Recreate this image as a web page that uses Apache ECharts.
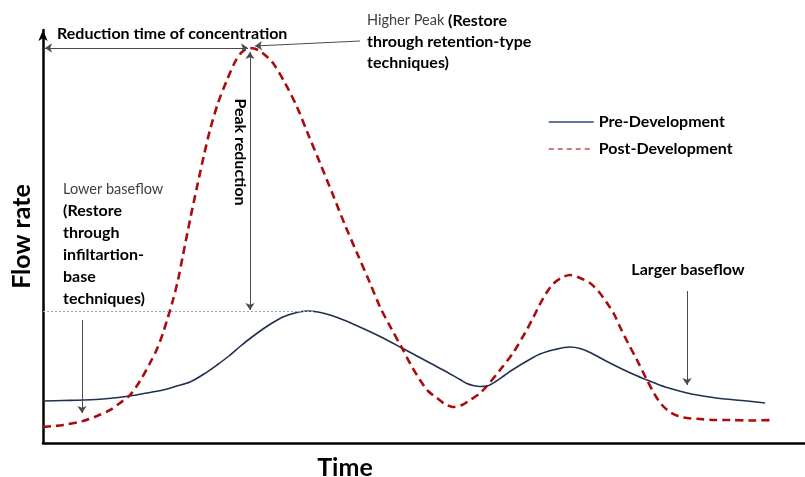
<!DOCTYPE html>
<html><head><meta charset="utf-8">
<script src="https://cdn.jsdelivr.net/npm/echarts@6/dist/echarts.min.js"></script>
<style>html,body{margin:0;padding:0;background:#fff}#c{width:805px;height:477px}</style>
</head><body><div id="c"></div>
<script>
// Time (x) and flow rate (y) in arbitrary units
const preX = [0,20,40,60,87,104,120,134,147,161,174,186,197,209,220,230,240,252,264,275,287,302,319,337,359,373,387,402,417,424,430,437,444,452,462,470,484,497,512,527,537,547,563,580,592,604,614,624,644,657,677,699,722];
const preY = [42,42.5,43,44,47,50,53,57,61,69,78,87,96.5,106,114,120.5,126,130,132,131,128,122.5,115,106.5,95,87.5,80,72,63.5,59.5,57.5,56.5,57,61,68,73.5,82,89,93.5,96,94.5,90.5,82,73.5,68,63,59,55.5,50,47.5,44.5,42.5,40];
const postX = [0,20,40,54,67,77,87,97,107,114,120,125,130,135,140,147,154,161,167,175,184,192,199,207,215,223,230,242,254,265,277,290,302,314,327,337,348,359,368,377,385,394,402,410,419,427,436,444,457,470,482,490,497,504,510,518,527,537,547,556,564,571,577,585,594,604,612,619,627,635,644,657,672,687,707,730];
const postY = [16,18,22,27,33,40,48,62,80,94,110,126,143,163,188,223,256,288,313,340,363,381,391,395,393,387,380,360,336,309,280,248,218,190,160,136,115,95,78,63,52,45,39,36,38,43,49,57,73,90,110,125,139,151,159,165,168,165,160,151,140,129,116,100,83,63,48,38,31,27,25,24,23,23,22.5,23];
const seriesNames = ['Pre-Development','Post-Development'];
const axisNames = {x:'Time', y:'Flow rate'};
// annotation arrows [x1,y1,x2,y2]
const arrowTimeConc = [2,395,205,395];
const arrowHigherPeak = [317,402,212,397];
const arrowPeakRed = [207,391,207,133];
const arrowLowerBase = [39,123,39,30];
const arrowLargerBase = [644,152,644,58];
const dottedRef = [0,132,270,132];
// annotation text anchors [x,y]
const txtTimeConc = {pos:[14,409], text:'Reduction time of concentration'};
const txtHigherPeak = {pos:[324,423], lines:['{n|Higher Peak }{b|(Restore}','{b|through retention-type}','{b|techniques)}']};
const txtPeakRed = {pos:[197,291], text:'Peak reduction'};
const txtLowerBase = {pos:[20,254], lines:['{n|Lower baseflow}','{b|(Restore}','{b|through}','{b|infiltartion-}','{b|base}','{b|techniques)}']};
const txtLargerBase = {pos:[645,173], text:'Larger baseflow'};

const FONT = 'Lato';
const PRE_COLOR = '#1f3050', POST_COLOR = '#a80c0c';
const pre = preX.map((x,i)=>[x,preY[i]]);
const post = postX.map((x,i)=>[x,postY[i]]);
function ml(a, s0, s1){ return [{coord:[a[0],a[1]], symbol:s0},{coord:[a[2],a[3]], symbol:s1}]; }

const chart = echarts.init(document.getElementById('c'), null, {renderer:'canvas'});
chart.setOption({
  animation:false,
  grid:{left:43, right:0, top:30, bottom:34, containLabel:false, outerBoundsMode:'none'},
  xAxis:{type:'value', min:0, max:762, name:axisNames.x, nameLocation:'middle', nameGap:12,
    nameTextStyle:{fontFamily:FONT, fontWeight:'bold', fontSize:25, color:'#000', padding:[0,158,0,0]},
    axisLine:{lineStyle:{color:'#000', width:2.5}}, axisTick:{show:false}, axisLabel:{show:false}, splitLine:{show:false}},
  yAxis:{type:'value', min:0, max:413, name:axisNames.y, nameLocation:'middle', nameGap:9, nameRotate:90,
    nameTextStyle:{fontFamily:FONT, fontWeight:'bold', fontSize:25, color:'#000'},
    axisLine:{lineStyle:{color:'#000', width:2.5}, symbol:['none','arrow'], symbolSize:[7,11]},
    axisTick:{show:false}, axisLabel:{show:false}, splitLine:{show:false}},
  legend:{orient:'vertical', left:543, top:109, itemWidth:45, itemHeight:14, itemGap:11,
    textStyle:{fontFamily:FONT, fontWeight:'bold', fontSize:16, color:'#000'},
    data:[{name:seriesNames[0], itemStyle:{opacity:0}, lineStyle:{color:'#2f4a7a', width:1.5}},
          {name:seriesNames[1], itemStyle:{opacity:0}, lineStyle:{color:'#c0504d', width:1.5, type:[5,4]}}]},
  series:[
    {name:seriesNames[0], type:'line', data:pre, smooth:0.3, symbol:'none',
     itemStyle:{color:PRE_COLOR}, lineStyle:{color:PRE_COLOR, width:1.6}, z:3},
    {name:seriesNames[1], type:'line', data:post, smooth:0.3, symbol:'none',
     itemStyle:{color:POST_COLOR}, lineStyle:{color:POST_COLOR, width:2.6, type:[8,5]}, z:4},
    {name:'annotations', type:'line', data:[], silent:true,
     markLine:{silent:true, symbolSize:7, label:{show:false}, lineStyle:{color:'#4a4a4a', width:1, type:'solid'},
       data:[ ml(arrowTimeConc,'arrow','arrow'), ml(arrowHigherPeak,'none','arrow'), ml(arrowPeakRed,'arrow','arrow'),
              ml(arrowLowerBase,'none','arrow'), ml(arrowLargerBase,'none','arrow'),
              [{coord:[dottedRef[0],dottedRef[1]], symbol:'none', lineStyle:{color:'#9aa6c4', type:[2,2], width:1}},
               {coord:[dottedRef[2],dottedRef[3]], symbol:'none'}] ]}}
  ]
});
const P = p => chart.convertToPixel({xAxisIndex:0,yAxisIndex:0}, p);
const rich = {n:{fontFamily:FONT, fontSize:14.5, fontWeight:'normal', fill:'#404040', lineHeight:21},
              b:{fontFamily:FONT, fontSize:16, fontWeight:'bold', fill:'#000', lineHeight:21}};
function t(pos, style, extra){ const p=P(pos); return Object.assign({type:'text', x:p[0], y:p[1], style:style, z:10}, extra||{}); }
chart.setOption({graphic:[
  t(txtTimeConc.pos, {text:txtTimeConc.text, font:'bold 16px '+FONT, fill:'#000', verticalAlign:'middle'}),
  t(txtHigherPeak.pos, {text:txtHigherPeak.lines.join('\n'), rich:rich, verticalAlign:'top'}, {y:P(txtHigherPeak.pos)[1]-10}),
  t(txtPeakRed.pos, {text:txtPeakRed.text, font:'bold 16px '+FONT, fill:'#000', align:'center', verticalAlign:'middle'}, {rotation:-Math.PI/2}),
  t(txtLowerBase.pos, {text:txtLowerBase.lines.join('\n'), rich:Object.assign({}, rich, {b:Object.assign({}, rich.b, {lineHeight:22})}), verticalAlign:'top'}, {y:P(txtLowerBase.pos)[1]-10}),
  t(txtLargerBase.pos, {text:txtLargerBase.text, font:'bold 16px '+FONT, fill:'#000', align:'center', verticalAlign:'middle'})
]});
</script></body></html>
